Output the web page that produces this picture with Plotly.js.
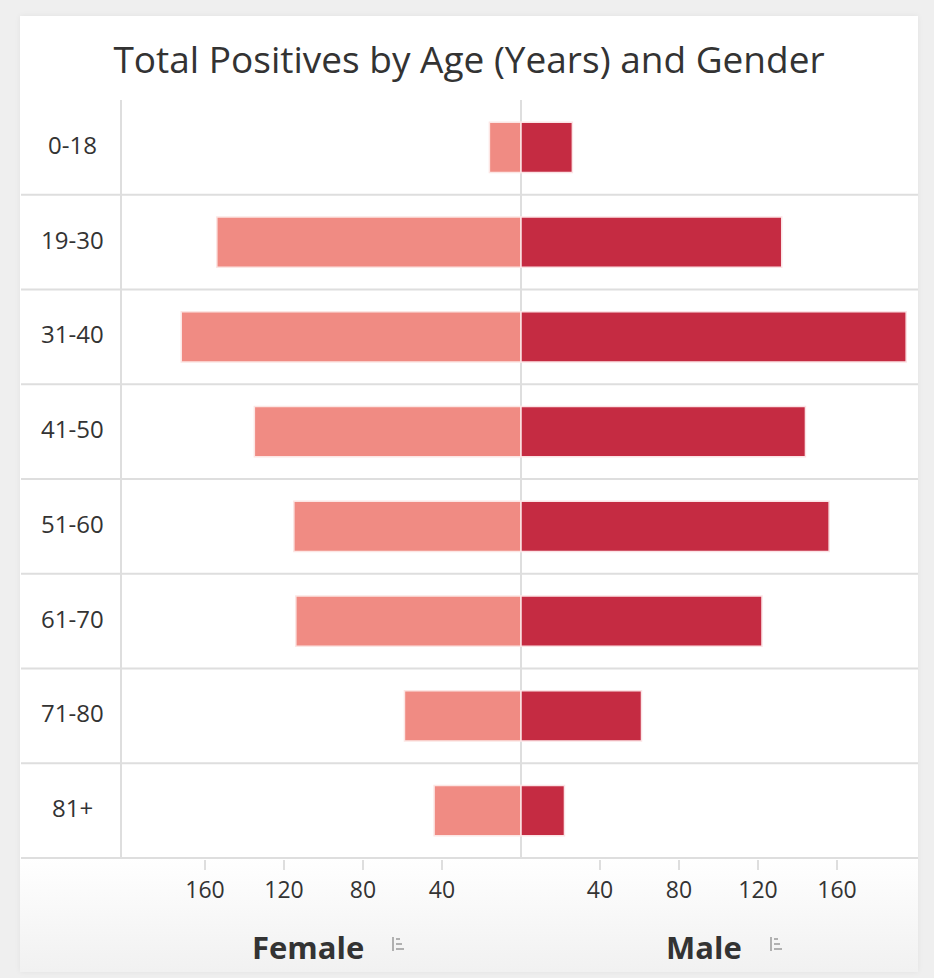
<!DOCTYPE html>
<html>
<head>
<meta charset="utf-8">
<script src="https://cdn.plot.ly/plotly-3.0.1.min.js"></script>
<style>
  html, body { margin: 0; padding: 0; background: #efefef; width: 934px; height: 978px; overflow: hidden; }
  #card { position: absolute; left: 20px; top: 16px; width: 898px; height: 956px;
          background: linear-gradient(to bottom, #ffffff 0%, #ffffff 88%, #f1f1f1 100%);
          box-shadow: 0 0 6px rgba(0,0,0,0.06); }
  #chart { position: absolute; left: 0; top: 0; width: 934px; height: 978px; }
</style>
</head>
<body>
<div id="card"></div>
<div id="chart"></div>
<script>
// ---- data ----
var ageGroups = ["0-18", "19-30", "31-40", "41-50", "51-60", "61-70", "71-80", "81+"];
var femaleValues = [16, 154, 172, 135, 115, 114, 59, 44];
var maleValues = [26, 132, 195, 144, 156, 122, 61, 22];
var tickValues = [160, 120, 80, 40];
var chartTitle = "Total Positives by Age (Years) and Gender";
var femaleLabel = "Female";
var maleLabel = "Male";

// ---- layout helpers (pixel -> paper) ----
var W = 934, H = 978;
var M = { l: 122, r: 14, t: 100, b: 119 };
var PW = W - M.l - M.r, PH = H - M.t - M.b;
function px(x) { return (x - M.l) / PW; }
function py(y) { return (H - M.b - y) / PH; }

var femaleColor = "#F08B83";
var maleColor = "#C52B42";
var gridColor = "#dedede";
var textColor = "#333333";
var font = "Open Sans, Noto Sans, sans-serif";

var traces = [
  {
    type: "bar", orientation: "h", name: femaleLabel,
    y: ageGroups, x: femaleValues.map(function (v) { return -v; }),
    marker: { color: femaleColor, line: { color: "#fce6e4", width: 1.5 } },
    width: 0.53, hoverinfo: "skip"
  },
  {
    type: "bar", orientation: "h", name: maleLabel,
    y: ageGroups, x: maleValues,
    marker: { color: maleColor, line: { color: "#fbe3e5", width: 1.5 } },
    width: 0.53, hoverinfo: "skip"
  }
];

var tv = tickValues.map(function (v) { return -v; }).concat(tickValues.slice().reverse());
var tt = tickValues.map(String).concat(tickValues.slice().reverse().map(String));

var shapes = [];
// horizontal separators between categories and bottom line
for (var i = 0; i < ageGroups.length; i++) {
  shapes.push({
    type: "line", xref: "paper", yref: "y",
    x0: px(21), x1: px(918), y0: i + 0.5, y1: i + 0.5,
    line: { color: gridColor, width: 2 }, layer: "below"
  });
}
// sort icons next to axis titles
function icon(cx) {
  var col = "#9a9a9a";
  shapes.push({ type: "line", xref: "paper", yref: "paper", x0: px(cx), x1: px(cx), y0: py(937), y1: py(951), line: { color: col, width: 1.5 } });
  shapes.push({ type: "line", xref: "paper", yref: "paper", x0: px(cx + 3), x1: px(cx + 7), y0: py(939), y1: py(939), line: { color: col, width: 1.5 } });
  shapes.push({ type: "line", xref: "paper", yref: "paper", x0: px(cx + 3), x1: px(cx + 9), y0: py(944), y1: py(944), line: { color: col, width: 1.5 } });
  shapes.push({ type: "line", xref: "paper", yref: "paper", x0: px(cx + 3), x1: px(cx + 11), y0: py(949), y1: py(949), line: { color: col, width: 1.5 } });
}
icon(393);
icon(771);

var annotations = ageGroups.map(function (g) {
  return {
    xref: "paper", yref: "y", x: px(72), y: g, text: g, showarrow: false,
    xanchor: "center", yanchor: "middle", yshift: 3,
    font: { family: font, size: 24, color: textColor }
  };
});
annotations.push({
  xref: "paper", yref: "paper", x: px(308), y: py(947), text: "<b>" + femaleLabel + "</b>",
  showarrow: false, xanchor: "center", yanchor: "middle",
  font: { family: font, size: 31, color: textColor }
});
annotations.push({
  xref: "paper", yref: "paper", x: px(704), y: py(947), text: "<b>" + maleLabel + "</b>",
  showarrow: false, xanchor: "center", yanchor: "middle",
  font: { family: font, size: 31, color: textColor }
});

var layout = {
  width: W, height: H,
  margin: M,
  paper_bgcolor: "rgba(0,0,0,0)",
  plot_bgcolor: "rgba(0,0,0,0)",
  showlegend: false,
  barmode: "overlay",
  title: {
    text: chartTitle, x: 469 / W, xanchor: "center", y: 1 - 60 / H, yanchor: "middle",
    font: { family: font, size: 37, color: textColor }
  },
  xaxis: {
    range: [-202, 202], fixedrange: true,
    tickvals: tv, ticktext: tt,
    ticks: "outside", ticklen: 10, tickwidth: 2, tickcolor: gridColor,
    tickfont: { family: font, size: 23, color: textColor },
    showgrid: false,
    zeroline: true, zerolinecolor: gridColor, zerolinewidth: 2,
    showline: false
  },
  yaxis: {
    type: "category", autorange: "reversed", fixedrange: true,
    showticklabels: false, ticks: "", showgrid: false, zeroline: false,
    showline: true, linecolor: gridColor, linewidth: 2
  },
  shapes: shapes,
  annotations: annotations
};

Plotly.newPlot("chart", traces, layout, { displayModeBar: false, staticPlot: true });
</script>
</body>
</html>
